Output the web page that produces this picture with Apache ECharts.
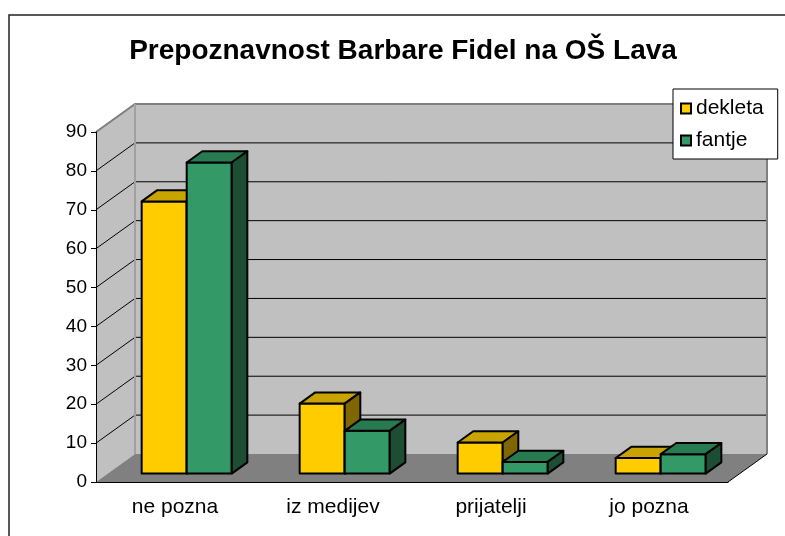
<!DOCTYPE html>
<html>
<head>
<meta charset="utf-8">
<script src="https://cdn.jsdelivr.net/npm/echarts@6/dist/echarts.min.js"></script>
<style>
  html, body { margin: 0; padding: 0; background: #fff; }
  #chart { width: 785px; height: 536px; }
</style>
</head>
<body>
<div id="chart"></div>
<script>
const categories = ['ne pozna', 'iz medijev', 'prijatelji', 'jo pozna'];
const dekleta = [70, 18, 8, 4];
const fantje = [80, 11, 3, 5];
const valueTicks = [0, 10, 20, 30, 40, 50, 60, 70, 80, 90];

// oblique depth of the floor (px), and where the bars sit inside it
const DEPTH = [39, -28];
const BAR_FRONT = 0.3, BAR_BACK = 0.7;
const BAR_FRAC = 0.285;

const COLORS = {
  wall: '#c0c0c0', floor: '#808080', edge: '#808080',
  yellow: ['#ffcc00', '#c9a300', '#806600'],
  green:  ['#339966', '#287a50', '#1d4d33'],
};

const FONT = '"Liberation Sans", Arial, sans-serif';

const shift = (pt, f) => [pt[0] + DEPTH[0] * f, pt[1] + DEPTH[1] * f];

function renderWalls(params, api) {
  const cs = params.coordSys;
  const x0 = cs.x, x1 = cs.x + cs.width;
  const yZero = api.coord([0, 0])[1];
  const yTop = api.coord([0, valueTicks[valueTicks.length - 1]])[1];
  const children = [];

  // back wall
  const b0 = shift([x0, yTop], 1), b1 = shift([x1, yZero], 1);
  children.push({ type: 'rect', shape: { x: b0[0], y: b0[1], width: b1[0] - b0[0], height: b1[1] - b0[1] },
    style: { fill: COLORS.wall } });
  // side wall
  children.push({ type: 'polygon', shape: { points: [[x0, yTop], shift([x0, yTop], 1), shift([x0, yZero], 1), [x0, yZero]] },
    style: { fill: COLORS.wall } });
  // floor
  children.push({ type: 'polygon', shape: { points: [[x0, yZero], [x1, yZero], shift([x1, yZero], 1), shift([x0, yZero], 1)] },
    style: { fill: COLORS.floor } });

  // grid lines on side and back wall
  valueTicks.forEach((t) => {
    if (t === 0) return;
    const y = api.coord([0, t])[1];
    const a = shift([x0, y], 1), b = shift([x1, y], 1);
    if (t !== valueTicks[valueTicks.length - 1]) {
      children.push({ type: 'line', shape: { x1: a[0], y1: a[1], x2: b[0], y2: b[1] },
        style: { stroke: '#000', lineWidth: 1 } });
    }
    children.push({ type: 'line', shape: { x1: x0, y1: y, x2: a[0], y2: a[1] },
      style: { stroke: '#000', lineWidth: 1 } });
  });

  // wall edges
  const tl = shift([x0, yTop], 1), tr = shift([x1, yTop], 1), br = shift([x1, yZero], 1), bl = shift([x0, yZero], 1);
  children.push({ type: 'polyline', shape: { points: [[x0, yTop], tl, tr, br] },
    style: { stroke: COLORS.edge, lineWidth: 2, fill: null } });
  children.push({ type: 'line', shape: { x1: tl[0], y1: tl[1], x2: bl[0], y2: bl[1] },
    style: { stroke: '#a0a0a0', lineWidth: 2 } });
  // floor right edge
  children.push({ type: 'line', shape: { x1: x1, y1: yZero, x2: br[0], y2: br[1] },
    style: { stroke: '#000', lineWidth: 1 } });

  return { type: 'group', children };
}

function barRenderer(slot, colors) {
  return function (params, api) {
    const cat = api.value(0), v = api.value(1);
    const base = api.coord([cat, 0]);
    const top = api.coord([cat, v]);
    const w = api.size([1, 0])[0] * BAR_FRAC;
    const xl = base[0] - w + slot * w, xr = xl + w;
    const yb = base[1], yt = top[1];
    const stroke = { stroke: '#000', lineWidth: 2, lineJoin: 'round' };
    return {
      type: 'group',
      children: [
        { type: 'polygon', shape: { points: [shift([xl, yt], BAR_FRONT), shift([xr, yt], BAR_FRONT), shift([xr, yb], BAR_FRONT), shift([xl, yb], BAR_FRONT)] },
          style: Object.assign({ fill: colors[0] }, stroke) },
        { type: 'polygon', shape: { points: [shift([xl, yt], BAR_FRONT), shift([xr, yt], BAR_FRONT), shift([xr, yt], BAR_BACK), shift([xl, yt], BAR_BACK)] },
          style: Object.assign({ fill: colors[1] }, stroke) },
        { type: 'polygon', shape: { points: [shift([xr, yt], BAR_FRONT), shift([xr, yb], BAR_FRONT), shift([xr, yb], BAR_BACK), shift([xr, yt], BAR_BACK)] },
          style: Object.assign({ fill: colors[2] }, stroke) },
      ],
    };
  };
}

const chart = echarts.init(document.getElementById('chart'), null, { renderer: 'canvas' });

chart.setOption({
  backgroundColor: '#fff',
  animation: false,
  title: {
    text: 'Prepoznavnost Barbare Fidel na OŠ Lava',
    left: 398, top: 32, textAlign: 'center',
    textStyle: { fontFamily: FONT, fontSize: 28, fontWeight: 'bold', color: '#000' },
  },
  legend: {
    orient: 'vertical',
    left: 673, top: 89,
    padding: [9, 14, 8, 7],
    itemGap: 11,
    itemWidth: 10, itemHeight: 10,
    backgroundColor: '#fff',
    borderColor: '#000', borderWidth: 1, borderRadius: 0,
    icon: 'rect',
    textStyle: { fontFamily: FONT, fontSize: 21, color: '#000', padding: [0, 0, 0, 0] },
    data: [
      { name: 'dekleta', itemStyle: { color: COLORS.yellow[0], borderColor: '#000', borderWidth: 2 } },
      { name: 'fantje', itemStyle: { color: COLORS.green[0], borderColor: '#000', borderWidth: 2 } },
    ],
  },
  graphic: [{
    type: 'rect',
    shape: { x: 9, y: 15, width: 800, height: 600 },
    style: { fill: null, stroke: '#222', lineWidth: 1.5 },
    silent: true, z: -10,
  }],
  grid: { left: 96, top: 132, width: 632, height: 350 },
  xAxis: {
    type: 'category',
    data: categories,
    z: 10,
    axisLine: { lineStyle: { color: '#000', width: 1 } },
    axisTick: { length: 6, lineStyle: { color: '#000' } },
    axisLabel: { color: '#000', fontFamily: FONT, fontSize: 21, margin: 15 },
    splitLine: { show: false },
  },
  yAxis: {
    type: 'value',
    min: 0, max: 90, interval: 10,
    z: 10,
    axisLine: { show: true, lineStyle: { color: '#000', width: 1 } },
    axisTick: { show: true, length: 5, lineStyle: { color: '#000' } },
    axisLabel: { color: '#000', fontFamily: FONT, fontSize: 19, margin: 9 },
    splitLine: { show: false },
  },
  series: [
    {
      type: 'custom', name: 'walls', silent: true, z: 1,
      renderItem: renderWalls,
      data: [[0, 0]],
    },
    {
      type: 'custom', name: 'dekleta', z: 3,
      itemStyle: { color: COLORS.yellow[0] },
      renderItem: barRenderer(0, COLORS.yellow),
      data: dekleta.map((v, i) => [i, v]),
    },
    {
      type: 'custom', name: 'fantje', z: 4,
      itemStyle: { color: COLORS.green[0] },
      renderItem: barRenderer(1, COLORS.green),
      data: fantje.map((v, i) => [i, v]),
    },
  ],
});
</script>
</body>
</html>
